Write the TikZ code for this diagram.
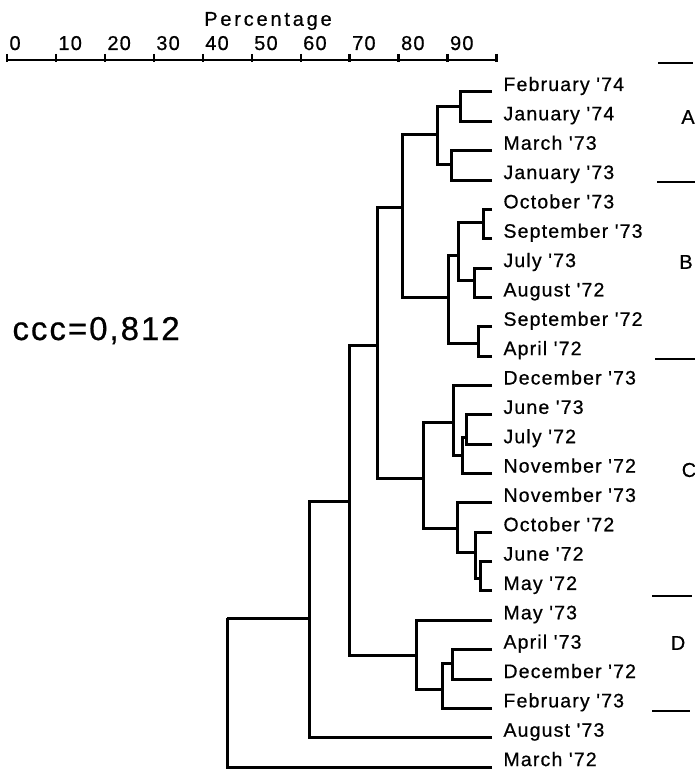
\documentclass[tikz,border=0pt]{standalone}
\usepackage{fontspec}
\setmainfont[FakeBold=0.6]{Liberation Sans}
\newfontfamily\spacedfont[LetterSpace=6,FakeBold=0.6]{Liberation Sans}
\newfontfamily\widefont[LetterSpace=14,FakeBold=0.6]{Liberation Sans}
\begin{document}
\begin{tikzpicture}[x=1pt,y=-1pt,line width=3pt]
\tikzset{
  leaf/.style={anchor=base west,inner sep=0pt,font=\spacedfont\fontsize{19.5}{20}\selectfont},
  ticklabel/.style={anchor=base west,inner sep=0pt,font=\spacedfont\fontsize{20}{20}\selectfont},
  grouplabel/.style={anchor=center,inner sep=0pt,font=\fontsize{20}{20}\selectfont},
  sep/.style={line width=2.4pt},
  axis/.style={line width=2.4pt},
  link/.style={line width=3pt}
}
\useasboundingbox (0,0) rectangle (695,770);
% axis
\coordinate (ax0) at (7,60);
\coordinate (ax1) at (497,60);
\draw[axis] (ax0) -- (ax1);
\foreach \k in {0,...,10}{
  \pgfmathsetmacro\tx{7+48.95*\k}
  \draw[axis] (\tx,54) -- (\tx,62);
}
\foreach \k/\lab in {0/0,1/10,2/20,3/30,4/40,5/50,6/60,7/70,8/80,9/90}{
  \pgfmathsetmacro\tx{7+48.95*\k+1}
  \node[ticklabel] (t\k) at (\tx,50) {\lab};
}
\node[anchor=center,inner sep=0pt,font=\widefont\fontsize{20}{20}\selectfont] (perc) at (268,21) {Percentage};
% ccc
\node[anchor=base west,inner sep=0pt,font=\spacedfont\fontsize{33}{33}\selectfont] (ccc) at (11,340) {ccc=0,812};
% leaves
\foreach \i/\t in {0/February '74,1/January '74,2/March '73,3/January '73,4/October '73,5/September '73,6/July '73,7/August '72,8/September '72,9/April '72,10/December '73,11/June '73,12/July '72,13/November '72,14/November '73,15/October '72,16/June '72,17/May '72,18/May '73,19/April '73,20/December '72,21/February '73,22/August '73,23/March '72}{
  \pgfmathsetmacro\y{92+29.35*\i}
  \coordinate (e\i) at (492,\y);
  \node[leaf] (n\i) at (502,\y-1) {\t};
}
% internal nodes
\coordinate (a1) at (460,107);
\coordinate (a2) at (451,165);
\coordinate (A) at (437,135);
\coordinate (b1) at (483,222);
\coordinate (b2) at (474,280);
\coordinate (b3) at (458,255);
\coordinate (b4) at (478,343);
\coordinate (B) at (448,297);
\coordinate (AB) at (402,207);
\coordinate (c1) at (466,437);
\coordinate (c2) at (462,455);
\coordinate (c3) at (453,422);
\coordinate (c4) at (480,578);
\coordinate (c5) at (475,552);
\coordinate (c6) at (457,528);
\coordinate (C) at (423,478);
\coordinate (ABC) at (377,345);
\coordinate (d1) at (452,663);
\coordinate (d2) at (442,689);
\coordinate (D) at (416,655);
\coordinate (ABCD) at (349,501);
\coordinate (E) at (309,618);
\coordinate (R) at (227,618);
\foreach \c/\p in {e0/a1,e1/a1,e2/a2,e3/a2,a1/A,a2/A,e4/b1,e5/b1,e6/b2,e7/b2,b1/b3,b2/b3,e8/b4,e9/b4,b3/B,b4/B,A/AB,B/AB,e11/c1,e12/c1,c1/c2,e13/c2,e10/c3,c2/c3,e16/c4,e17/c4,e15/c5,c4/c5,e14/c6,c5/c6,c3/C,c6/C,AB/ABC,C/ABC,e19/d1,e20/d1,d1/d2,e21/d2,e18/D,d2/D,ABC/ABCD,D/ABCD,ABCD/E,e22/E,E/R,e23/R}{
  \draw[link] (\c) -| (\p);
}
% group separators and labels
\foreach \j/\y/\xa/\xb in {0/63/658/693,1/182/657/695,2/359/655/695,3/596/652/692,4/711/652/690}{
  \coordinate (s\j a) at (\xa,\y);
  \coordinate (s\j b) at (\xb,\y);
  \draw[sep] (s\j a) -- (s\j b);
}
\node[grouplabel] (gA) at (688,117) {A};
\node[grouplabel] (gB) at (686,262) {B};
\node[grouplabel] (gC) at (689,470) {C};
\node[grouplabel] (gD) at (678,643) {D};
\end{tikzpicture}
\end{document}
